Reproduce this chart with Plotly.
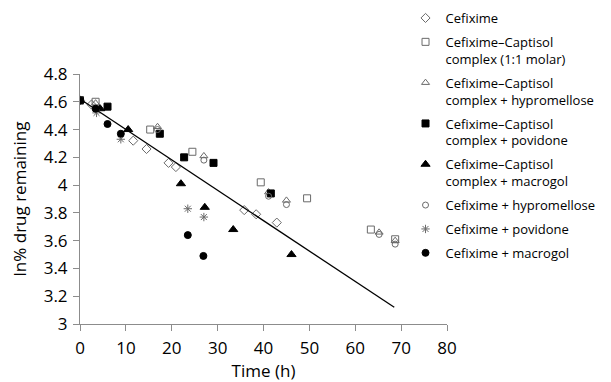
import plotly.graph_objects as go

# ---- data ----
cef_x = [0, 2.5, 11.6, 14.5, 19.3, 20.9, 35.8, 38.4, 42.9]
cef_y = [4.61, 4.58, 4.32, 4.26, 4.16, 4.13, 3.82, 3.79, 3.73]

cc_x = [0, 3.4, 15.3, 24.5, 39.4, 49.5, 63.4, 68.7]
cc_y = [4.61, 4.60, 4.40, 4.24, 4.02, 3.905, 3.68, 3.61]

cch_x = [0, 3.4, 16.9, 27.0, 41.1, 45.0, 65.2, 68.7]
cch_y = [4.61, 4.59, 4.42, 4.21, 3.95, 3.89, 3.66, 3.60]

ccp_x = [0, 6.0, 17.4, 22.7, 29.1, 41.6]
ccp_y = [4.61, 4.565, 4.37, 4.20, 4.16, 3.94]

ccm_x = [0, 4.4, 10.5, 22.0, 27.2, 33.4, 46.1]
ccm_y = [4.61, 4.55, 4.40, 4.01, 3.84, 3.68, 3.50]

ch_x = [0, 16.9, 27.0, 41.1, 45.0, 65.2, 68.7]
ch_y = [4.61, 4.40, 4.18, 3.92, 3.86, 3.645, 3.575]

cp_x = [0, 3.6, 8.9, 23.5, 27.0]
cp_y = [4.61, 4.52, 4.33, 3.83, 3.77]

cm_x = [0, 3.4, 6.0, 8.9, 23.5, 26.9]
cm_y = [4.61, 4.55, 4.44, 4.37, 3.64, 3.49]

fit_x = [0, 68.5]
fit_y = [4.62, 3.12]

names = [
    "Cefixime",
    "Cefixime\u2013Captisol<br>complex (1:1 molar)",
    "Cefixime\u2013Captisol<br>complex + hypromellose",
    "Cefixime\u2013Captisol<br>complex + povidone",
    "Cefixime\u2013Captisol<br>complex + macrogol",
    "Cefixime + hypromellose",
    "Cefixime + povidone",
    "Cefixime + macrogol",
]

y_ticks = [3, 3.2, 3.4, 3.6, 3.8, 4, 4.2, 4.4, 4.6, 4.8]
x_ticks = [0, 10, 20, 30, 40, 50, 60, 70, 80]

GREY = "#6a6a6a"
series = [
    (cef_x, cef_y, "diamond-open", 7, GREY),
    (cc_x, cc_y, "square-open", 7, GREY),
    (cch_x, cch_y, "triangle-up-open", 7, GREY),
    (ccp_x, ccp_y, "square", 7, "black"),
    (ccm_x, ccm_y, "triangle-up", 8, "black"),
    (ch_x, ch_y, "circle-open", 6, GREY),
    (cp_x, cp_y, "asterisk-open", 7, GREY),
    (cm_x, cm_y, "circle", 7, "black"),
]

fig = go.Figure()
for i, ((xs, ys, sym, sz, col), nm) in enumerate(zip(series, names)):
    fig.add_trace(go.Scatter(
        x=xs, y=ys, mode="markers", name=nm, legendgroup=f"g{i}",
        marker=dict(symbol=sym, size=sz, color=col,
                    line=dict(color=col, width=1)),
    ))

fig.add_trace(go.Scatter(
    x=fit_x, y=fit_y, mode="lines", showlegend=False,
    line=dict(color="black", width=1.3),
))

FONT = "Open Sans"
# The page body adds an 8 px margin, so the figure is made 8 px smaller
# and its margins shifted so the plot lands where the reference has it.
fig.update_layout(
    width=603, height=374,
    margin=dict(l=72, r=164, t=66, b=58, autoexpand=False),
    paper_bgcolor="white", plot_bgcolor="white",
    font=dict(family=FONT, color="black", size=17),
    legend=dict(
        x=0.887, xanchor="left", y=1.284, yanchor="top",
        font=dict(family=FONT, size=13, color="black"),
        tracegroupgap=4, valign="top", maxheight=380,
        bgcolor="rgba(0,0,0,0)", borderwidth=0,
    ),
    xaxis=dict(
        range=[0, 80], tickvals=x_ticks, showgrid=False, zeroline=False,
        showline=True, linecolor="#8c8c8c", linewidth=1,
        ticks="outside", ticklen=6, tickcolor="#8c8c8c",
        tickfont=dict(size=17), ticklabelstandoff=3, automargin=False,
        title=dict(text="Time (h)", font=dict(size=17), standoff=10),
    ),
    yaxis=dict(
        range=[3, 4.8], tickvals=y_ticks, showgrid=False, zeroline=False,
        showline=True, linecolor="#8c8c8c", linewidth=1,
        ticks="outside", ticklen=6, tickcolor="#8c8c8c",
        tickfont=dict(size=17), ticklabelstandoff=2, automargin=False,
        title=dict(text="ln% drug remaining", font=dict(size=17), standoff=21),
    ),
)

fig.write_html("out.html")
